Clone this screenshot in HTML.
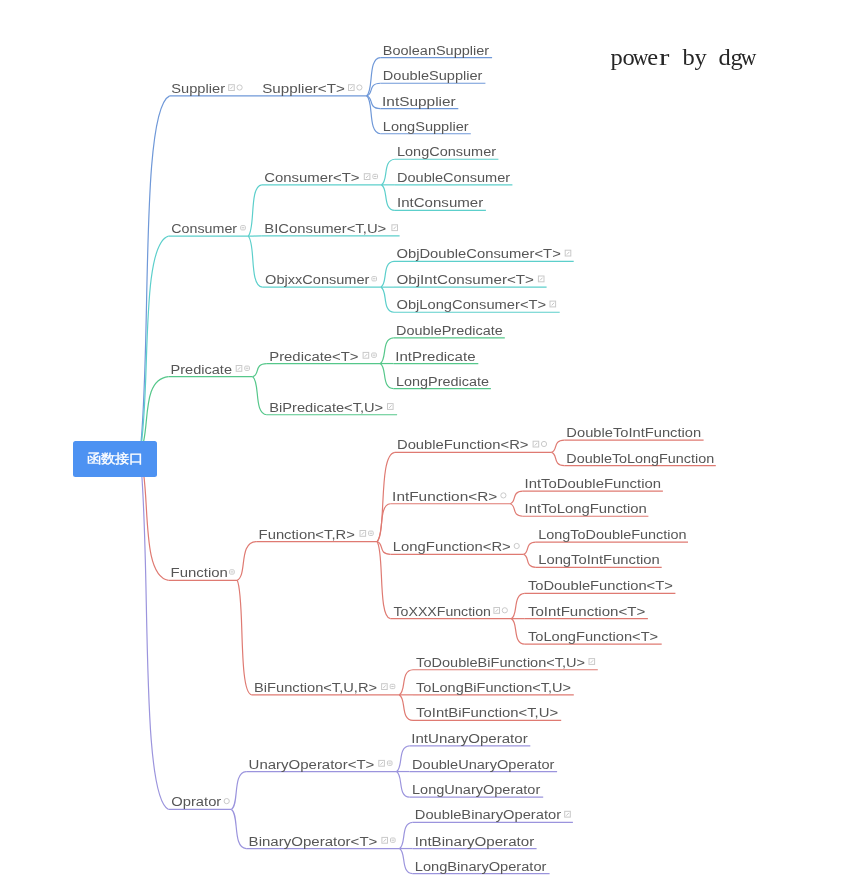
<!DOCTYPE html>
<html><head><meta charset="utf-8"><style>
html,body{margin:0;padding:0;background:#fff;}
body{width:846px;height:884px;overflow:hidden;position:relative;}
svg{position:absolute;left:0;top:0;filter:blur(0.35px);}
.t text{font-family:"Liberation Sans",sans-serif;font-size:12.5px;fill:#565656;}
.ln path{fill:none;stroke-width:1.2;}
.ic{fill:none;stroke:#c9c9c9;stroke-width:1;}
.im{fill:none;stroke:#bdbdbd;stroke-width:0.9;}
.root{position:absolute;left:72.7px;top:441px;width:83.9px;height:35.6px;background:#4d92f2;border-radius:2.5px;filter:blur(0.3px);}
.root span{position:absolute;left:0;top:0;width:100%;height:100%;color:#fff;font-family:"Liberation Sans",sans-serif;font-size:14px;-webkit-text-stroke:0.35px #fff;line-height:35.6px;text-align:center;transform:translate(0.4px,0.4px) scale(1.0,0.9);}
.pw{font-family:"Liberation Serif",serif;font-size:24px;fill:#262626;}
</style></head><body>
<svg width="846" height="884" viewBox="0 0 846 884">
<g class="ln" transform="translate(0 0.25)"><path d="M139.9 453.3C151.9 353.14 139.34 109.55 169.6 95.6" stroke="#6f98d8"/>
<path d="M139.9 453.3C151.45 392.43 139.36 244.38 168.5 235.9" stroke="#5ccfcb"/>
<path d="M139.9 453.3C151.45 431.77 139.36 379.4 168.5 376.4" stroke="#55c78a"/>
<path d="M139.9 453.3C151.45 488.8 139.36 575.15 168.5 580.1" stroke="#df7a72"/>
<path d="M139.9 453.3C151.45 552.95 139.36 795.32 168.5 809.2" stroke="#9b94dd"/>
<path d="M248.2 235.9C255.57 228.87 248.91 185.68 261.8 184.6" stroke="#5ccfcb"/>
<path d="M248.2 235.9C255.57 235.87 248.91 235.7 261.8 235.7" stroke="#5ccfcb"/>
<path d="M248.2 235.9C255.84 242.89 248.93 285.83 262.3 286.9" stroke="#5ccfcb"/>
<path d="M252.7 376.4C260.34 374.61 253.43 363.58 266.8 363.3" stroke="#55c78a"/>
<path d="M252.7 376.4C260.34 381.62 253.43 413.7 266.8 414.5" stroke="#55c78a"/>
<path d="M237.2 580.1C247.5 574.8 238.19 542.21 256.2 541.4" stroke="#df7a72"/>
<path d="M237.2 580.1C245 595.79 237.95 692.2 251.6 694.6" stroke="#df7a72"/>
<path d="M231.4 809.2C239.42 804.01 232.17 772.1 246.2 771.3" stroke="#9b94dd"/>
<path d="M231.4 809.2C239.42 814.56 232.17 847.48 246.2 848.3" stroke="#9b94dd"/>
<path d="M366.6 95.6C374.08 90.35 367.32 58.1 380.4 57.3" stroke="#6f98d8"/>
<path d="M366.6 95.6C374.08 93.87 367.32 83.26 380.4 83" stroke="#6f98d8"/>
<path d="M366.6 95.6C374.08 97.35 367.32 108.13 380.4 108.4" stroke="#6f98d8"/>
<path d="M366.6 95.6C374.08 100.79 367.32 132.7 380.4 133.5" stroke="#6f98d8"/>
<path d="M381.4 184.6C388.72 181.09 382.1 159.54 394.9 159" stroke="#5ccfcb"/>
<path d="M381.4 184.6C388.72 184.6 382.1 184.6 394.9 184.6" stroke="#5ccfcb"/>
<path d="M381.4 184.6C388.72 188.11 382.1 209.66 394.9 210.2" stroke="#5ccfcb"/>
<path d="M380.9 286.9C388 283.37 381.58 261.64 394 261.1" stroke="#5ccfcb"/>
<path d="M380.9 286.9C388 286.9 381.58 286.9 394 286.9" stroke="#5ccfcb"/>
<path d="M380.9 286.9C388 290.34 381.58 311.47 394 312" stroke="#5ccfcb"/>
<path d="M380.1 363.3C387.42 359.79 380.8 338.24 393.6 337.7" stroke="#55c78a"/>
<path d="M380.1 363.3C387.42 363.3 380.8 363.3 393.6 363.3" stroke="#55c78a"/>
<path d="M380.1 363.3C387.42 366.74 380.8 387.87 393.6 388.4" stroke="#55c78a"/>
<path d="M377.1 541.4C386.75 529.17 378.03 453.98 394.9 452.1" stroke="#df7a72"/>
<path d="M377.1 541.4C384.31 536.21 377.79 504.3 390.4 503.5" stroke="#df7a72"/>
<path d="M377.1 541.4C384.31 543.14 377.79 553.83 390.4 554.1" stroke="#df7a72"/>
<path d="M377.1 541.4C384.31 551.95 377.79 616.78 390.4 618.4" stroke="#df7a72"/>
<path d="M399.2 694.6C406.68 691.16 399.92 670.03 413 669.5" stroke="#df7a72"/>
<path d="M399.2 694.6C406.68 694.6 399.92 694.6 413 694.6" stroke="#df7a72"/>
<path d="M399.2 694.6C406.68 698.11 399.92 719.66 413 720.2" stroke="#df7a72"/>
<path d="M396.4 771.3C403.55 767.78 397.09 746.14 409.6 745.6" stroke="#9b94dd"/>
<path d="M396.4 771.3C403.55 771.3 397.09 771.3 409.6 771.3" stroke="#9b94dd"/>
<path d="M396.4 771.3C403.55 774.81 397.09 796.36 409.6 796.9" stroke="#9b94dd"/>
<path d="M399.4 848.3C406.61 844.72 400.09 822.75 412.7 822.2" stroke="#9b94dd"/>
<path d="M399.4 848.3C406.61 848.3 400.09 848.3 412.7 848.3" stroke="#9b94dd"/>
<path d="M399.4 848.3C406.61 851.72 400.09 872.77 412.7 873.3" stroke="#9b94dd"/>
<path d="M551.4 452.1C558.39 450.41 552.07 440.06 564.3 439.8" stroke="#df7a72"/>
<path d="M551.4 452.1C558.39 453.92 552.07 465.12 564.3 465.4" stroke="#df7a72"/>
<path d="M510.2 503.5C517.03 501.77 510.86 491.16 522.8 490.9" stroke="#df7a72"/>
<path d="M510.2 503.5C517.03 505.21 510.86 515.74 522.8 516" stroke="#df7a72"/>
<path d="M523.5 554.1C530.17 552.41 524.14 542.06 535.8 541.8" stroke="#df7a72"/>
<path d="M523.5 554.1C530.17 555.88 524.14 566.83 535.8 567.1" stroke="#df7a72"/>
<path d="M511.3 618.4C518.62 614.95 512 593.73 524.8 593.2" stroke="#df7a72"/>
<path d="M511.3 618.4C518.62 618.4 512 618.4 524.8 618.4" stroke="#df7a72"/>
<path d="M511.3 618.4C518.62 621.89 512 643.36 524.8 643.9" stroke="#df7a72"/>
<path d="M169.6 95.6H366.6" stroke="#6f98d8"/>
<path d="M168.5 235.9H248.2" stroke="#5ccfcb"/>
<path d="M168.5 376.4H252.7" stroke="#55c78a"/>
<path d="M168.5 580.1H237.2" stroke="#df7a72"/>
<path d="M168.5 809.2H231.4" stroke="#9b94dd"/>
<path d="M261.8 184.6H381.4" stroke="#5ccfcb"/>
<path d="M261.8 235.7H399.6" stroke="#5ccfcb"/>
<path d="M262.3 286.9H380.9" stroke="#5ccfcb"/>
<path d="M266.8 363.3H380.1" stroke="#55c78a"/>
<path d="M266.8 414.5H397.1" stroke="#55c78a"/>
<path d="M256.2 541.4H377.1" stroke="#df7a72"/>
<path d="M251.6 694.6H399.2" stroke="#df7a72"/>
<path d="M246.2 771.3H396.4" stroke="#9b94dd"/>
<path d="M246.2 848.3H399.4" stroke="#9b94dd"/>
<path d="M380.4 57.3H492.1" stroke="#6f98d8"/>
<path d="M380.4 83H485.4" stroke="#6f98d8"/>
<path d="M380.4 108.4H458.3" stroke="#6f98d8"/>
<path d="M380.4 133.5H470.8" stroke="#6f98d8"/>
<path d="M394.9 159H498.4" stroke="#5ccfcb"/>
<path d="M394.9 184.6H512.4" stroke="#5ccfcb"/>
<path d="M394.9 210.2H485.9" stroke="#5ccfcb"/>
<path d="M394 261.1H573.7" stroke="#5ccfcb"/>
<path d="M394 286.9H546.6" stroke="#5ccfcb"/>
<path d="M394 312H559.7" stroke="#5ccfcb"/>
<path d="M393.6 337.7H504.8" stroke="#55c78a"/>
<path d="M393.6 363.3H478.3" stroke="#55c78a"/>
<path d="M393.6 388.4H490.9" stroke="#55c78a"/>
<path d="M394.9 452.1H551.4" stroke="#df7a72"/>
<path d="M390.4 503.5H510.2" stroke="#df7a72"/>
<path d="M390.4 554.1H523.5" stroke="#df7a72"/>
<path d="M390.4 618.4H511.3" stroke="#df7a72"/>
<path d="M413 669.5H597.8" stroke="#df7a72"/>
<path d="M413 694.6H573.8" stroke="#df7a72"/>
<path d="M413 720.2H561.2" stroke="#df7a72"/>
<path d="M409.6 745.6H530.3" stroke="#9b94dd"/>
<path d="M409.6 771.3H557.1" stroke="#9b94dd"/>
<path d="M409.6 796.9H543.2" stroke="#9b94dd"/>
<path d="M412.7 822.2H572.9" stroke="#9b94dd"/>
<path d="M412.7 848.3H536.6" stroke="#9b94dd"/>
<path d="M412.7 873.3H549.6" stroke="#9b94dd"/>
<path d="M564.3 439.8H703.6" stroke="#df7a72"/>
<path d="M564.3 465.4H715.8" stroke="#df7a72"/>
<path d="M522.8 490.9H662.9" stroke="#df7a72"/>
<path d="M522.8 516H648.4" stroke="#df7a72"/>
<path d="M535.8 541.8H688" stroke="#df7a72"/>
<path d="M535.8 567.1H661.7" stroke="#df7a72"/>
<path d="M524.8 593.2H675.4" stroke="#df7a72"/>
<path d="M524.8 618.4H647.9" stroke="#df7a72"/>
<path d="M524.8 643.9H661.7" stroke="#df7a72"/></g>
<g><rect class="ic" x="228.7" y="84.7" width="5.6" height="5.8"/><path class="im" d="M230.4 89L232.8 86.4"/>
<circle class="ic" cx="239.6" cy="87.5" r="2.6"/>
<rect class="ic" x="240.7" y="225.6" width="4.6" height="4.3" rx="1"/><path class="im" d="M241.8 227.75h2.4"/>
<rect class="ic" x="236.2" y="365.5" width="5.6" height="5.8"/><path class="im" d="M237.9 369.8L240.3 367.2"/>
<rect class="ic" x="244.8" y="366.1" width="4.6" height="4.3" rx="1"/><path class="im" d="M245.9 368.25h2.4"/>
<rect class="ic" x="229.6" y="569.8" width="4.6" height="4.3" rx="1"/><path class="im" d="M230.7 571.95h2.4"/>
<circle class="ic" cx="226.7" cy="801.1" r="2.6"/>
<rect class="ic" x="348.5" y="84.7" width="5.6" height="5.8"/><path class="im" d="M350.2 89L352.6 86.4"/>
<circle class="ic" cx="359.4" cy="87.5" r="2.6"/>
<rect class="ic" x="364.3" y="173.7" width="5.6" height="5.8"/><path class="im" d="M366 178L368.4 175.4"/>
<rect class="ic" x="372.9" y="174.3" width="4.6" height="4.3" rx="1"/><path class="im" d="M374 176.45h2.4"/>
<rect class="ic" x="391.9" y="224.8" width="5.6" height="5.8"/><path class="im" d="M393.6 229.1L396 226.5"/>
<rect class="ic" x="371.9" y="276.6" width="4.6" height="4.3" rx="1"/><path class="im" d="M373 278.75h2.4"/>
<rect class="ic" x="363.1" y="352.4" width="5.6" height="5.8"/><path class="im" d="M364.8 356.7L367.2 354.1"/>
<rect class="ic" x="371.7" y="353" width="4.6" height="4.3" rx="1"/><path class="im" d="M372.8 355.15h2.4"/>
<rect class="ic" x="387.5" y="403.6" width="5.6" height="5.8"/><path class="im" d="M389.2 407.9L391.6 405.3"/>
<rect class="ic" x="360" y="530.5" width="5.6" height="5.8"/><path class="im" d="M361.7 534.8L364.1 532.2"/>
<rect class="ic" x="368.6" y="531.1" width="4.6" height="4.3" rx="1"/><path class="im" d="M369.7 533.25h2.4"/>
<rect class="ic" x="381.6" y="683.7" width="5.6" height="5.8"/><path class="im" d="M383.3 688L385.7 685.4"/>
<rect class="ic" x="390.2" y="684.3" width="4.6" height="4.3" rx="1"/><path class="im" d="M391.3 686.45h2.4"/>
<rect class="ic" x="378.8" y="760.4" width="5.6" height="5.8"/><path class="im" d="M380.5 764.7L382.9 762.1"/>
<rect class="ic" x="387.4" y="761" width="4.6" height="4.3" rx="1"/><path class="im" d="M388.5 763.15h2.4"/>
<rect class="ic" x="381.9" y="837.4" width="5.6" height="5.8"/><path class="im" d="M383.6 841.7L386 839.1"/>
<rect class="ic" x="390.5" y="838" width="4.6" height="4.3" rx="1"/><path class="im" d="M391.6 840.15h2.4"/>
<rect class="ic" x="565.2" y="250.2" width="5.6" height="5.8"/><path class="im" d="M566.9 254.5L569.3 251.9"/>
<rect class="ic" x="538.4" y="276" width="5.6" height="5.8"/><path class="im" d="M540.1 280.3L542.5 277.7"/>
<rect class="ic" x="550" y="301.1" width="5.6" height="5.8"/><path class="im" d="M551.7 305.4L554.1 302.8"/>
<rect class="ic" x="533.1" y="441.2" width="5.6" height="5.8"/><path class="im" d="M534.8 445.5L537.2 442.9"/>
<circle class="ic" cx="544" cy="444" r="2.6"/>
<circle class="ic" cx="503.4" cy="495.4" r="2.6"/>
<circle class="ic" cx="516.7" cy="546" r="2.6"/>
<rect class="ic" x="493.9" y="607.5" width="5.6" height="5.8"/><path class="im" d="M495.6 611.8L498 609.2"/>
<circle class="ic" cx="504.8" cy="610.3" r="2.6"/>
<rect class="ic" x="589" y="658.6" width="5.6" height="5.8"/><path class="im" d="M590.7 662.9L593.1 660.3"/>
<rect class="ic" x="564.7" y="811.3" width="5.6" height="5.8"/><path class="im" d="M566.4 815.6L568.8 813"/></g>
<g class="t"><text x="171.28" y="92.85" textLength="53.76" lengthAdjust="spacingAndGlyphs">Supplier</text>
<text x="171.28" y="233.15" textLength="65.81" lengthAdjust="spacingAndGlyphs">Consumer</text>
<text x="170.55" y="373.65" textLength="61.42" lengthAdjust="spacingAndGlyphs">Predicate</text>
<text x="170.53" y="577.35" textLength="57.32" lengthAdjust="spacingAndGlyphs">Function</text>
<text x="171.27" y="806.45" textLength="50" lengthAdjust="spacingAndGlyphs">Oprator</text>
<text x="262.22" y="92.85" textLength="82.65" lengthAdjust="spacingAndGlyphs">Supplier&lt;T&gt;</text>
<text x="264.23" y="181.85" textLength="95.31" lengthAdjust="spacingAndGlyphs">Consumer&lt;T&gt;</text>
<text x="264.24" y="232.95" textLength="122.03" lengthAdjust="spacingAndGlyphs">BIConsumer&lt;T,U&gt;</text>
<text x="265.1" y="284.15" textLength="104.34" lengthAdjust="spacingAndGlyphs">ObjxxConsumer</text>
<text x="269.22" y="360.55" textLength="89.33" lengthAdjust="spacingAndGlyphs">Predicate&lt;T&gt;</text>
<text x="269.23" y="411.75" textLength="113.97" lengthAdjust="spacingAndGlyphs">BiPredicate&lt;T,U&gt;</text>
<text x="258.62" y="538.65" textLength="96.26" lengthAdjust="spacingAndGlyphs">Function&lt;T,R&gt;</text>
<text x="254.03" y="691.85" textLength="123.1" lengthAdjust="spacingAndGlyphs">BiFunction&lt;T,U,R&gt;</text>
<text x="248.63" y="768.55" textLength="125.7" lengthAdjust="spacingAndGlyphs">UnaryOperator&lt;T&gt;</text>
<text x="248.63" y="845.55" textLength="128.73" lengthAdjust="spacingAndGlyphs">BinaryOperator&lt;T&gt;</text>
<text x="382.83" y="54.55" textLength="106.27" lengthAdjust="spacingAndGlyphs">BooleanSupplier</text>
<text x="382.83" y="80.25" textLength="99.59" lengthAdjust="spacingAndGlyphs">DoubleSupplier</text>
<text x="382.1" y="105.65" textLength="73.58" lengthAdjust="spacingAndGlyphs">IntSupplier</text>
<text x="382.83" y="130.75" textLength="85.81" lengthAdjust="spacingAndGlyphs">LongSupplier</text>
<text x="396.98" y="156.25" textLength="99.1" lengthAdjust="spacingAndGlyphs">LongConsumer</text>
<text x="396.98" y="181.85" textLength="113.16" lengthAdjust="spacingAndGlyphs">DoubleConsumer</text>
<text x="396.96" y="207.45" textLength="86.29" lengthAdjust="spacingAndGlyphs">IntConsumer</text>
<text x="396.44" y="258.35" textLength="164.36" lengthAdjust="spacingAndGlyphs">ObjDoubleConsumer&lt;T&gt;</text>
<text x="396.44" y="284.15" textLength="137.53" lengthAdjust="spacingAndGlyphs">ObjIntConsumer&lt;T&gt;</text>
<text x="396.44" y="309.25" textLength="149.63" lengthAdjust="spacingAndGlyphs">ObjLongConsumer&lt;T&gt;</text>
<text x="396.03" y="334.95" textLength="106.67" lengthAdjust="spacingAndGlyphs">DoublePredicate</text>
<text x="395.31" y="360.55" textLength="80.24" lengthAdjust="spacingAndGlyphs">IntPredicate</text>
<text x="396.02" y="385.65" textLength="92.94" lengthAdjust="spacingAndGlyphs">LongPredicate</text>
<text x="396.98" y="449.35" textLength="131.53" lengthAdjust="spacingAndGlyphs">DoubleFunction&lt;R&gt;</text>
<text x="392.11" y="500.75" textLength="105.17" lengthAdjust="spacingAndGlyphs">IntFunction&lt;R&gt;</text>
<text x="392.83" y="551.35" textLength="117.94" lengthAdjust="spacingAndGlyphs">LongFunction&lt;R&gt;</text>
<text x="393.55" y="615.65" textLength="97.45" lengthAdjust="spacingAndGlyphs">ToXXXFunction</text>
<text x="416.14" y="666.75" textLength="168.99" lengthAdjust="spacingAndGlyphs">ToDoubleBiFunction&lt;T,U&gt;</text>
<text x="416.14" y="691.85" textLength="154.79" lengthAdjust="spacingAndGlyphs">ToLongBiFunction&lt;T,U&gt;</text>
<text x="416.14" y="717.45" textLength="142.03" lengthAdjust="spacingAndGlyphs">ToIntBiFunction&lt;T,U&gt;</text>
<text x="411.32" y="742.85" textLength="116.35" lengthAdjust="spacingAndGlyphs">IntUnaryOperator</text>
<text x="412.04" y="768.55" textLength="142.39" lengthAdjust="spacingAndGlyphs">DoubleUnaryOperator</text>
<text x="412.03" y="794.15" textLength="128.2" lengthAdjust="spacingAndGlyphs">LongUnaryOperator</text>
<text x="414.78" y="819.45" textLength="146.33" lengthAdjust="spacingAndGlyphs">DoubleBinaryOperator</text>
<text x="414.77" y="845.55" textLength="119.5" lengthAdjust="spacingAndGlyphs">IntBinaryOperator</text>
<text x="414.78" y="870.55" textLength="131.68" lengthAdjust="spacingAndGlyphs">LongBinaryOperator</text>
<text x="566.38" y="437.05" textLength="134.76" lengthAdjust="spacingAndGlyphs">DoubleToIntFunction</text>
<text x="566.38" y="462.65" textLength="147.8" lengthAdjust="spacingAndGlyphs">DoubleToLongFunction</text>
<text x="524.52" y="488.15" textLength="136.48" lengthAdjust="spacingAndGlyphs">IntToDoubleFunction</text>
<text x="524.51" y="513.25" textLength="122.28" lengthAdjust="spacingAndGlyphs">IntToLongFunction</text>
<text x="538.23" y="539.05" textLength="148.34" lengthAdjust="spacingAndGlyphs">LongToDoubleFunction</text>
<text x="538.23" y="564.35" textLength="121.56" lengthAdjust="spacingAndGlyphs">LongToIntFunction</text>
<text x="527.94" y="590.45" textLength="144.81" lengthAdjust="spacingAndGlyphs">ToDoubleFunction&lt;T&gt;</text>
<text x="527.94" y="615.65" textLength="117.41" lengthAdjust="spacingAndGlyphs">ToIntFunction&lt;T&gt;</text>
<text x="527.94" y="641.15" textLength="130.23" lengthAdjust="spacingAndGlyphs">ToLongFunction&lt;T&gt;</text></g>
<text transform="translate(616.6 65.0) scale(1.02 1)" text-anchor="middle" class="pw">p</text><text transform="translate(628.6 65.0) scale(1.02 1)" text-anchor="middle" class="pw">o</text><text transform="translate(640.6 65.0) scale(0.90 1)" text-anchor="middle" class="pw">w</text><text transform="translate(652.6 65.0) scale(1.02 1)" text-anchor="middle" class="pw">e</text><text transform="translate(664.1 65.0) scale(1.30 1)" text-anchor="middle" class="pw">r</text><text transform="translate(688.6 65.0) scale(1.02 1)" text-anchor="middle" class="pw">b</text><text transform="translate(700.6 65.0) scale(1.02 1)" text-anchor="middle" class="pw">y</text><text transform="translate(724.6 65.0) scale(1.02 1)" text-anchor="middle" class="pw">d</text><text transform="translate(736.6 65.0) scale(1.02 1)" text-anchor="middle" class="pw">g</text><text transform="translate(748.6 65.0) scale(0.90 1)" text-anchor="middle" class="pw">w</text>
</svg>
<div class="root"><span>函数接口</span></div>

</body></html>
